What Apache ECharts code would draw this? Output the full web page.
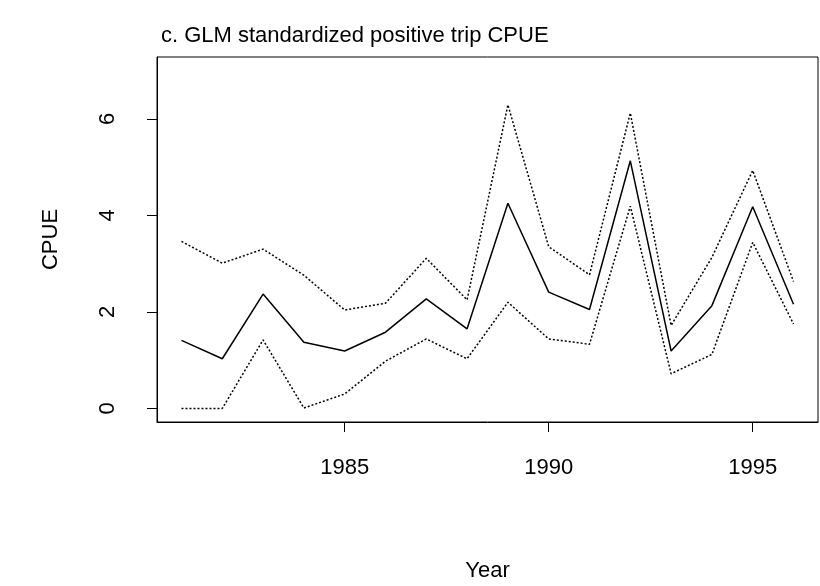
<!DOCTYPE html>
<html>
<head>
<meta charset="utf-8">
<script src="https://cdn.jsdelivr.net/npm/echarts@6/dist/echarts.min.js"></script>
<style>
  html, body { margin: 0; padding: 0; background: #ffffff; }
  #chart { width: 820px; height: 586px; }
</style>
</head>
<body>
<div id="chart"></div>
<script>
// CPUE by year, with upper / lower bounds (dotted)
const years = [1981, 1982, 1983, 1984, 1985, 1986, 1987, 1988, 1989, 1990, 1991, 1992, 1993, 1994, 1995, 1996];
const cpue  = [1.41, 1.03, 2.37, 1.37, 1.19, 1.58, 2.27, 1.65, 4.25, 2.41, 2.05, 5.13, 1.19, 2.13, 4.18, 2.16];
const upper = [3.46, 3.01, 3.30, 2.76, 2.04, 2.18, 3.11, 2.25, 6.29, 3.35, 2.77, 6.12, 1.72, 3.13, 4.93, 2.63];
const lower = [0.00, 0.00, 1.42, 0.01, 0.30, 0.98, 1.44, 1.03, 2.20, 1.44, 1.33, 4.19, 0.72, 1.12, 3.44, 1.75];
const xTicks = [1985, 1990, 1995];
const yTicks = [0, 2, 4, 6];

const font = "Liberation Sans, Arial, Helvetica, sans-serif";
const pairs = (vals) => years.map((y, i) => [y, vals[i]]);

const chart = echarts.init(document.getElementById("chart"), null, { renderer: "canvas" });

chart.setOption({
  animation: false,
  backgroundColor: "#ffffff",
  title: {
    text: "c. GLM standardized positive trip CPUE",
    left: 156,
    top: 20,
    textStyle: { color: "#000", fontFamily: font, fontSize: 22, fontWeight: "normal" },
  },
  grid: {
    left: 157,
    right: 2,
    top: 57,
    bottom: 164,
    containLabel: false,
    outerBoundsMode: "none",
    show: true,
    borderColor: "#000",
    borderWidth: 1,
    backgroundColor: "transparent",
  },
  xAxis: {
    type: "value",
    min: 1980.4,
    max: 1996.6,
    name: "Year",
    nameLocation: "middle",
    nameGap: 138,
    nameTextStyle: { color: "#000", fontFamily: font, fontSize: 22 },
    axisLine: { show: true, onZero: false, lineStyle: { color: "#000", width: 1 } },
    axisTick: { show: true, inside: false, length: 10, customValues: xTicks, lineStyle: { color: "#000", width: 1 } },
    axisLabel: {
      customValues: xTicks,
      formatter: (v) => String(v),
      margin: 35,
      color: "#000",
      fontFamily: font,
      fontSize: 22,
    },
    splitLine: { show: false },
  },
  yAxis: {
    type: "value",
    min: -0.28,
    max: 7.28,
    name: "CPUE",
    nameLocation: "middle",
    nameRotate: 90,
    nameGap: 95,
    nameTextStyle: { color: "#000", fontFamily: font, fontSize: 22 },
    axisLine: { show: true, onZero: false, lineStyle: { color: "#000", width: 1 } },
    axisTick: { show: true, inside: false, length: 10, customValues: yTicks, lineStyle: { color: "#000", width: 1 } },
    axisLabel: {
      customValues: yTicks,
      formatter: (v) => String(v),
      rotate: 90,
      margin: 38,
      color: "#000",
      fontFamily: font,
      fontSize: 22,
    },
    splitLine: { show: false },
  },
  series: [
    {
      name: "CPUE",
      type: "line",
      data: pairs(cpue),
      showSymbol: false,
      lineStyle: { color: "#000", width: 1.5, type: "solid" },
      z: 3,
    },
    {
      name: "upper",
      type: "line",
      data: pairs(upper),
      showSymbol: false,
      lineStyle: { color: "#000", width: 1.5, type: [2, 2] },
    },
    {
      name: "lower",
      type: "line",
      data: pairs(lower),
      showSymbol: false,
      lineStyle: { color: "#000", width: 1.5, type: [2, 2] },
    },
  ],
});
</script>
</body>
</html>
